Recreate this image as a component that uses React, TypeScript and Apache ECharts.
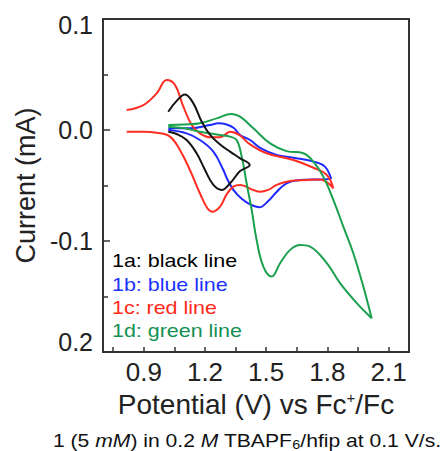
import React, { useEffect, useRef } from "react";
import * as echarts from "echarts";

const xTickValues = [0.75, 0.9, 1.05, 1.2, 1.35, 1.5, 1.65, 1.8, 1.95, 2.1];
const xLabelValues = [0.9, 1.2, 1.5, 1.8, 2.1];
const yLabelText: Record<string, string> = { "0.1": "0.1", "0": "0.0", "-0.1": "-0.1", "-0.2": "0.2" };

const line1a: [number, number][] = [
  [1.02, 0.0165], [1.06, 0.026], [1.102, 0.032], [1.143, 0.024], [1.184, 0.0075], [1.225, -0.0045],
  [1.274, -0.013], [1.323, -0.0195], [1.372, -0.0255], [1.419, -0.0315], [1.372, -0.037],
  [1.323, -0.048], [1.282, -0.054], [1.241, -0.0495], [1.2, -0.036], [1.159, -0.021],
  [1.11, -0.009], [1.061, -0.0036], [1.02, -0.0015],
];
const line1b: [number, number][] = [
  [1.02, 0.0015], [1.126, 0.0015], [1.225, 0.0045], [1.265, 0.006], [1.306, 0.005], [1.34, 0.002],
  [1.372, -0.0045], [1.421, -0.009], [1.47, -0.016], [1.551, -0.0225], [1.633, -0.025],
  [1.731, -0.0285], [1.788, -0.033], [1.818, -0.044], [1.764, -0.0445], [1.666, -0.045],
  [1.6, -0.048], [1.55, -0.056], [1.51, -0.064], [1.466, -0.0696], [1.421, -0.067],
  [1.38, -0.062], [1.339, -0.054], [1.306, -0.043], [1.29, -0.036], [1.241, -0.0195],
  [1.175, -0.009], [1.11, -0.003], [1.02, 0.0],
];
const line1c: [number, number][] = [
  [0.816, -0.0015], [0.9, -0.0015], [0.963, -0.0025], [1.028, -0.006], [1.077, -0.018],
  [1.126, -0.036], [1.175, -0.057], [1.21, -0.07], [1.236, -0.0736], [1.274, -0.069],
  [1.306, -0.058], [1.339, -0.051], [1.372, -0.0495], [1.437, -0.054], [1.47, -0.0556],
  [1.51, -0.054], [1.551, -0.0495], [1.617, -0.046], [1.7, -0.045], [1.764, -0.0445],
  [1.829, -0.0525], [1.797, -0.0405], [1.731, -0.034], [1.633, -0.027], [1.502, -0.021],
  [1.421, -0.013], [1.372, -0.005], [1.339, -0.002], [1.323, -0.0015], [1.3, -0.004],
  [1.274, -0.0066], [1.225, -0.0066], [1.175, -0.003], [1.135, 0.0045], [1.094, 0.021],
  [1.053, 0.0405], [1.012, 0.045], [0.963, 0.033], [0.898, 0.0225], [0.816, 0.018],
];
const line1d: [number, number][] = [
  [1.02, 0.0045], [1.1, 0.005], [1.175, 0.006], [1.257, 0.0105], [1.33, 0.0144], [1.372, 0.012],
  [1.437, 0.0015], [1.519, -0.012], [1.6, -0.019], [1.682, -0.021], [1.731, -0.0285],
  [1.78, -0.042], [1.829, -0.063], [1.878, -0.087], [1.927, -0.111], [1.976, -0.141],
  [2.017, -0.1696], [1.944, -0.156], [1.862, -0.138], [1.797, -0.12], [1.715, -0.105],
  [1.666, -0.1036], [1.617, -0.108], [1.568, -0.12], [1.527, -0.132], [1.486, -0.123],
  [1.453, -0.099], [1.429, -0.072], [1.404, -0.048], [1.38, -0.024], [1.355, -0.009],
  [1.323, -0.006], [1.274, -0.0045], [1.175, -0.0015], [1.1, 0.0015], [1.02, 0.003],
];

const legendLabels = ["1a: black line", "1b: blue line", "1c: red line", "1d: green line"];
const lineColors = ["#151515", "#1f2aff", "#ff2d22", "#1aa04e"];
const textColors = ["#000000", "#1a33ff", "#ff2a1a", "#139152"];

const FONT = "'Liberation Sans', Arial, Helvetica, sans-serif";

export default function App() {
  const ref = useRef<HTMLDivElement>(null);
  useEffect(() => {
    if (!ref.current) return;
    const chart = echarts.init(ref.current, null, { renderer: "svg" });
    const seriesData = [line1a, line1b, line1c, line1d];
    chart.setOption({
      animation: false,
      backgroundColor: "#ffffff",
      textStyle: { fontFamily: FONT },
      grid: {
        left: 103, top: 19, width: 306, height: 333,
        show: true, borderColor: "#333", borderWidth: 2, containLabel: false,
      },
      xAxis: {
        type: "value", min: 0.7, max: 2.2,
        name: "Potential (V) vs Fc{sup|+}/Fc",
        nameLocation: "middle", nameGap: 36,
        nameTextStyle: {
          fontSize: 28, color: "#222", fontFamily: FONT,
          rich: { sup: { fontSize: 15, verticalAlign: "top", padding: [0, 0, 14, 0], color: "#222", fontFamily: FONT } },
        },
        axisLine: { show: true, onZero: false, lineStyle: { color: "#333", width: 2 } },
        axisTick: { show: true, inside: true, length: 5, customValues: xTickValues, lineStyle: { color: "#333", width: 1.5 } },
        axisLabel: { customValues: xLabelValues, fontSize: 26, color: "#222", margin: 7, fontFamily: FONT,
          formatter: (v: number) => v.toFixed(1) },
        splitLine: { show: false },
      },
      yAxis: {
        type: "value", min: -0.2, max: 0.1, interval: 0.1,
        name: "Current (mA)", nameLocation: "middle", nameGap: 60,
        nameTextStyle: { fontSize: 27, color: "#222", fontFamily: FONT },
        axisLine: { show: true, onZero: false, lineStyle: { color: "#333", width: 2 } },
        axisTick: { show: true, inside: true, length: 7, lineStyle: { color: "#333", width: 1.5 } },
        minorTick: { show: true, splitNumber: 2, length: 5, lineStyle: { color: "#333", width: 1.5 } },
        axisLabel: {
          fontSize: 25, color: "#222", margin: 10, fontFamily: FONT,
          formatter: (v: number) => {
            const key = String(Math.round(v * 10) / 10);
            const t = yLabelText[key] ?? v.toFixed(1);
            if (key === "0.1") return "{top|" + t + "}";
            if (key === "-0.2") return "{bot|" + t + "}";
            return t;
          },
          rich: {
            top: { fontSize: 25, padding: [12, 0, 0, 0], color: "#222", fontFamily: FONT },
            bot: { fontSize: 25, padding: [0, 0, 20, 0], color: "#222", fontFamily: FONT },
          },
        },
        splitLine: { show: false },
        minorSplitLine: { show: false },
      },
      series: seriesData.map((d, i) => ({
        type: "line",
        name: legendLabels[i],
        data: d,
        showSymbol: false,
        smooth: 0.4,
        lineStyle: { color: lineColors[i], width: 2 },
        z: 3 + (i === 0 ? 1 : 0),
      })),
      graphic: [
        ...legendLabels.map((t, i) => ({
          type: "text",
          x: 112, y: 261 + i * 23.3,
          scaleX: 1.16,
          style: { text: t, fill: textColors[i], fontSize: 18.5, fontFamily: FONT, textVerticalAlign: "middle", textAlign: "left" },
          z: 10,
        })),
        {
          type: "text",
          x: 53, y: 441,
          scaleX: 1.2,
          style: {
            text: "1 (5 {i|mM}) in 0.2 {i|M} TBAPF{sub|6}/hfip at 0.1 V/s.",
            fill: "#111", fontSize: 17.6, fontFamily: FONT,
            textVerticalAlign: "middle", textAlign: "left",
            rich: {
              i: { fontStyle: "italic", fontSize: 17.6, fill: "#111", fontFamily: FONT },
              sub: { fontSize: 12, fill: "#111", padding: [7, 0, 0, 0], fontFamily: FONT },
            },
          },
        },
      ],
    });
    return () => chart.dispose();
  }, []);
  return <div ref={ref} style={{ position: "fixed", left: 0, top: 0, width: 445, height: 451 }} />;
}
